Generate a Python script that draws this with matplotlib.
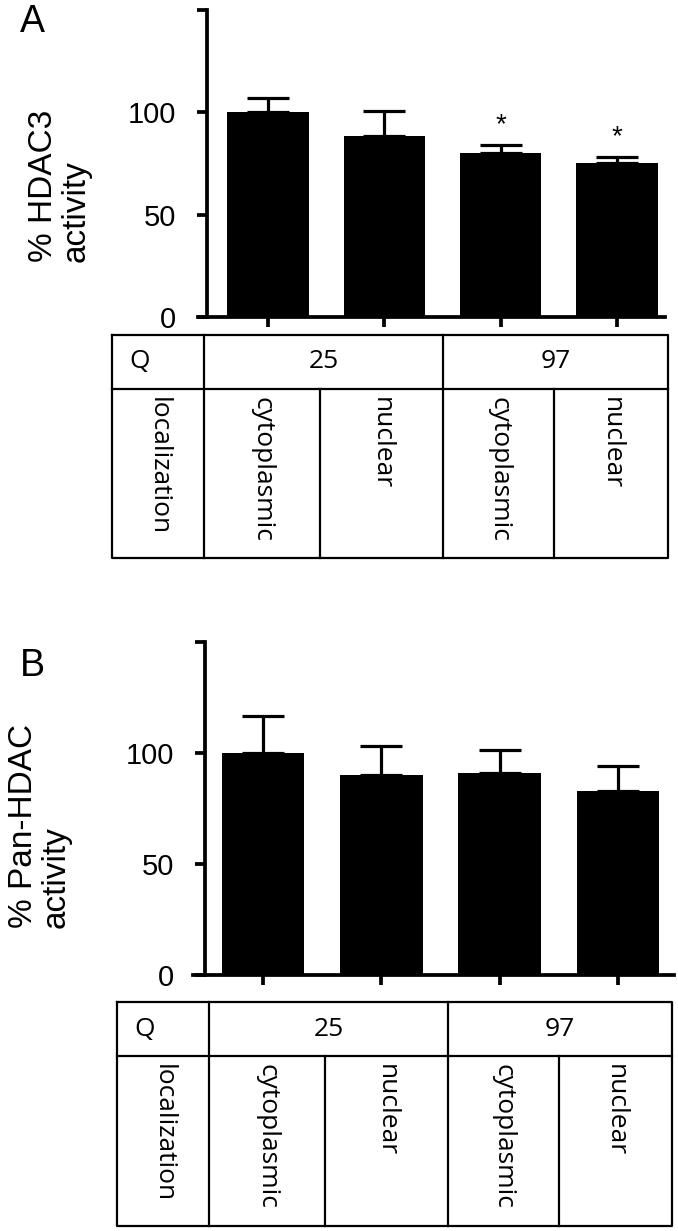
import numpy as np
import matplotlib
matplotlib.use('Agg')
from matplotlib import pyplot as plt

plt.rcParams['font.family'] = ['Liberation Sans', 'DejaVu Sans']

# values
hdac3_mean = [100, 88.5, 80, 75]
hdac3_sem = [7, 12, 4, 3]
hdac3_sig = [False, False, True, True]
pan_mean = [100, 90, 91, 83]
pan_sem = [16.5, 13, 10.5, 11]
q_labels = ['25', '97']
loc_labels = ['cytoplasmic', 'nuclear', 'cytoplasmic', 'nuclear']

W, H = 678, 1231
fig = plt.figure(figsize=(W / 100, H / 100), dpi=100)


def frac(l, t, r, b):
    # pixel box -> figure fraction rect
    return [l / W, 1 - b / H, (r - l) / W, (b - t) / H]


def bar_panel(rect, xlim, spine_x, means, sems, sig=None):
    ax = fig.add_axes(rect)
    x = np.arange(len(means))
    ax.bar(x, means, width=0.7, color='black', zorder=3)
    ax.errorbar(x, means, yerr=[np.zeros(len(means)), sems], fmt='none',
                ecolor='black', elinewidth=2.3, capsize=15, capthick=2.3,
                zorder=2)
    if sig is not None:
        for i in x:
            if sig[i]:
                ax.annotate('*', (x[i], means[i] + sems[i]), xytext=(0, 5),
                            textcoords='offset points', ha='center',
                            va='bottom', fontsize=20)
    ax.set_xlim(*xlim)
    ax.set_ylim(0, 150)
    ax.spines['left'].set_position(('data', spine_x))
    ax.spines[['top', 'right']].set_visible(False)
    ax.spines[['left', 'bottom']].set_linewidth(2.7)
    ax.set_yticks([0, 50, 100, 150])
    ax.set_yticklabels(['0', '50', '100', ''])
    ax.set_xticks(x)
    ax.set_xticklabels([])
    ax.tick_params(width=2.7, length=7.5, labelsize=21, pad=15)
    ax.tick_params(axis='x', pad=0)
    return ax


def draw_table(l, t, r, b, cols, row):
    ax = fig.add_axes(frac(l, t, r, b))
    ax.set_xlim(l, r)
    ax.set_ylim(b, t)
    ax.axis('off')
    kw = dict(color='black', lw=1.6, clip_on=False, solid_capstyle='projecting')
    ax.plot([l, r, r, l, l], [t, t, b, b, t], **kw)
    ax.plot([l, r], [row, row], **kw)
    ax.plot([cols[0], cols[0]], [t, b], **kw)
    ax.plot([cols[2], cols[2]], [t, b], **kw)
    ax.plot([cols[1], cols[1]], [row, b], **kw)
    ax.plot([cols[3], cols[3]], [row, b], **kw)
    tkw = dict(family=['Open Sans', 'DejaVu Sans'], fontsize=19)
    ym = (t + row) / 2
    ax.text(l + 17, ym, 'Q', ha='left', va='center', **tkw)
    ax.text((cols[0] + cols[2]) / 2, ym, q_labels[0], ha='center', va='center', **tkw)
    ax.text((cols[2] + r) / 2, ym, q_labels[1], ha='center', va='center', **tkw)
    edges = [l] + list(cols) + [r]
    names = ['localization'] + loc_labels
    for i, name in enumerate(names):
        ax.text((edges[i] + edges[i + 1]) / 2, row + 8, name, rotation=-90,
                ha='center', va='top', **tkw)


# panel A
bar_panel(frac(198, 10, 665, 317), (-0.602, 3.413), -0.524,
          hdac3_mean, hdac3_sem, hdac3_sig)
fig.text(60 / W, 1 - 186 / H, '% HDAC3\nactivity', rotation=90, ha='center',
         va='center', multialignment='left', fontsize=24, linespacing=1.05)
fig.text(20 / W, 1 - 4 / H, 'A', ha='left', va='top', fontsize=27)
draw_table(112, 335, 668, 558, [204, 320, 443, 554], 389)

# panel B
bar_panel(frac(193, 642, 674, 975), (-0.592, 3.473), -0.49,
          pan_mean, pan_sem)
fig.text(40 / W, 1 - 826 / H, '% Pan-HDAC\nactivity', rotation=90, ha='center',
         va='center', multialignment='left', fontsize=24, linespacing=1.05)
fig.text(20 / W, 1 - 648 / H, 'B', ha='left', va='top', fontsize=27)
draw_table(117, 1002, 672, 1226, [209, 325, 448, 559], 1056)

fig.savefig('out.png', dpi=100)
